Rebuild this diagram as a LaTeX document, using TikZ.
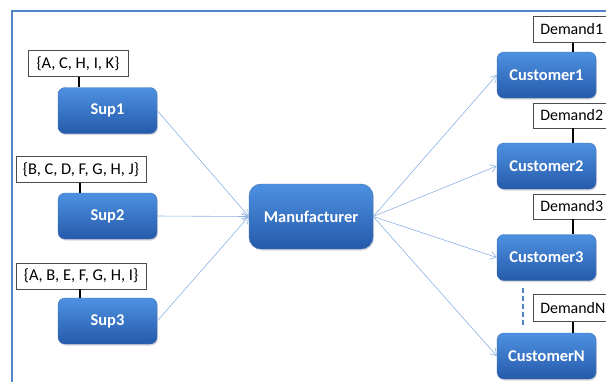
\documentclass[tikz,border=0pt]{standalone}
\usepackage{fontspec}
\setmainfont{Carlito}
\usetikzlibrary{arrows.meta,shadows}
\definecolor{boxtop}{RGB}{78,145,225}
\definecolor{boxbot}{RGB}{38,90,170}
\definecolor{boxedge}{RGB}{60,110,185}
\definecolor{linkcol}{RGB}{141,179,226}
\definecolor{framecol}{RGB}{84,132,200}
\tikzset{
  bluebox/.style={rounded corners=7bp, top color=boxtop, bottom color=boxbot,
    draw=boxedge, line width=0.4bp, text=white, font=\fontsize{16.5}{18}\selectfont\bfseries,
    inner sep=0pt, minimum width=99bp, minimum height=46bp,
    drop shadow={shadow xshift=1bp, shadow yshift=-1.5bp, opacity=0.3}},
  labelbox/.style={draw=black!70, fill=white, line width=0.5bp, inner sep=0pt,
    font=\fontsize{16.5}{18}\selectfont, minimum height=26bp},
  demandbox/.style={labelbox, font=\fontsize{16}{18}\selectfont, inner xsep=7bp,
    text width=88bp, align=left},
  tie/.style={line width=2bp, black},
  link/.style={draw=linkcol, line width=0.6bp, -{Straight Barb[length=6bp,width=8bp,line width=0.6bp]}}
}
\begin{document}
\begin{tikzpicture}[x=1bp,y=-1bp]
\useasboundingbox (0,0) rectangle (606,381);
\fill[white] (0,0) rectangle (606,381);
% frame
\draw[framecol, line width=2.2bp] (12,400) -- (12,11) -- (620,11);

% suppliers
\node[bluebox] (s1) at (107.5,110.5) {Sup1};
\node[bluebox] (s2) at (107.5,216) {Sup2};
\node[bluebox] (s3) at (107.5,321) {Sup3};
\node[labelbox, minimum width=100bp] (l1) at (78,63.5) {\{A, C, H, I, K\}};
\node[labelbox, minimum width=130bp] (l2) at (81,169.5) {\{B, C, D, F, G, H, J\}};
\node[labelbox, minimum width=130bp] (l3) at (81,276) {\{A, B, E, F, G, H, I\}};
\draw[tie] (l1.south -| 79,0) -- (s1.north -| 79,0);
\draw[tie] (l2.south -| 80,0) -- (s2.north -| 80,0);
\draw[tie] (l3.south -| 80,0) -- (s3.north -| 80,0);

% manufacturer
\node[bluebox, rounded corners=12bp, minimum width=124bp, minimum height=65bp] (m) at (311,216.5) {Manufacturer};

% customers
\node[bluebox] (c1) at (546.5,75) {Customer1};
\node[bluebox] (c2) at (546.5,166) {Customer2};
\node[bluebox] (c3) at (546.5,257.5) {Customer3};
\node[bluebox] (cn) at (546.5,356) {CustomerN};
\node[demandbox, anchor=west] (d1) at (533,29.5) {Demand1};
\node[demandbox, anchor=west, minimum height=25bp] (d2) at (533,115.5) {Demand2};
\node[demandbox, anchor=west, minimum height=25bp] (d3) at (533,206.5) {Demand3};
\node[demandbox, anchor=west, minimum height=27bp] (dn) at (533,308) {DemandN};
\draw[tie] (d1.south -| 573,0) -- (c1.north -| 573,0);
\draw[tie] (d2.south -| 573,0) -- (c2.north -| 573,0);
\draw[tie] (d3.south -| 573,0) -- (c3.north -| 573,0);
\draw[tie] (dn.south -| 573,0) -- (cn.north -| 573,0);
\coordinate (dtop) at (523,288);
\coordinate (dbot) at (523,325);
\draw[framecol, line width=2.2bp, dash pattern=on 5bp off 3bp] (dtop) -- (dbot);

% links
\draw[link] (s1.east) -- (m.west);
\draw[link] (s2.east) -- (m.west);
\draw[link] (s3.east) -- (m.west);
\draw[link] (m.east) -- (c1.west);
\draw[link] (m.east) -- (c2.west);
\draw[link] (m.east) -- (c3.west);
\draw[link] (m.east) -- (cn.west);
\end{tikzpicture}
\end{document}
